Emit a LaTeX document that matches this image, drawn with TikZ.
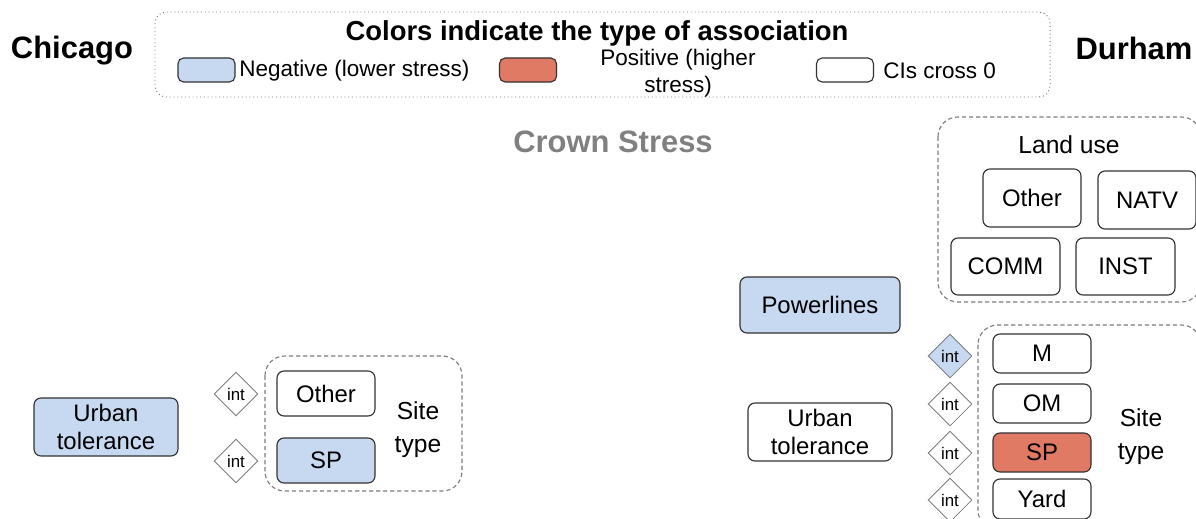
\documentclass[tikz,border=0pt]{standalone}
\usepackage{fontspec}
\setmainfont{Liberation Sans}
\usetikzlibrary{shapes.geometric}
\definecolor{negblue}{RGB}{198,217,240}
\definecolor{posred}{RGB}{224,122,100}
\definecolor{boxline}{RGB}{51,51,51}
\definecolor{grpline}{RGB}{125,125,125}
\definecolor{crowngray}{RGB}{128,128,128}
\tikzset{
  catbox/.style={draw=boxline, line width=0.8pt, rounded corners=5pt, inner sep=0pt,
    align=center, font=\fontsize{17}{20}\selectfont},
  intmark/.style={diamond, draw=grpline, line width=0.6pt, fill=white, inner sep=0pt,
    minimum width=1.1cm, minimum height=1.1cm, font=\fontsize{12}{14}\selectfont},
  grpbox/.style={draw=grpline, line width=0.8pt, dash pattern=on 3pt off 2pt, rounded corners=14pt},
  swatch/.style={draw=boxline, line width=0.8pt, rounded corners=4pt, inner sep=0pt,
    minimum width=1.425cm, minimum height=0.6cm},
  legtext/.style={font=\fontsize{16}{19}\selectfont, align=center, inner sep=0pt},
  sitelabel/.style={font=\fontsize{17.5}{23.5}\selectfont, align=center, inner sep=0pt},
}

\begin{document}
\begin{tikzpicture}[x=0.025cm, y=-0.025cm]
\useasboundingbox (0,0) rectangle (1196,519);
% legend
\draw[grpline, line width=0.7pt, dotted, rounded corners=8pt] (155,12) rectangle (1050,97);
\node[font=\bfseries\fontsize{19.5}{22}\selectfont] (legtitle) at (597,33) {Colors indicate the type of association};
\node[swatch, fill=negblue] (swneg) at (206.5,70) {};
\node[legtext, anchor=west] (txneg) at (239,71) {Negative (lower stress)};
\node[swatch, fill=posred] (swpos) at (528,70) {};
\node[legtext] (txpos) at (678,73) {Positive (higher\\stress)};
\node[swatch, fill=white] (swci) at (845,70) {};
\node[legtext, anchor=west] (txci) at (883,71) {CIs cross 0};
% headings
\node[font=\bfseries\fontsize{22}{24}\selectfont] (chicago) at (72,51) {Chicago};
\node[font=\bfseries\fontsize{22}{24}\selectfont] (durham) at (1134,48) {Durham};
\node[font=\bfseries\fontsize{22}{24}\selectfont, text=crowngray] (crown) at (613,142) {Crown Stress};

% Chicago
\node[catbox, fill=negblue, minimum width=3.6cm, minimum height=1.45cm] (chiurban) at (106,427) {Urban\\tolerance};
\draw[grpbox] (265,356) rectangle (462,491);
\node[catbox, minimum width=2.45cm, minimum height=1.125cm] (chiother) at (326,393.5) {Other};
\node[catbox, fill=negblue, minimum width=2.45cm, minimum height=1.125cm] (chisp) at (326,460.5) {SP};
\node[sitelabel] (chisite) at (418,430) {Site\\type};
\node[intmark] (chiint1) at (236,394) {int};
\node[intmark] (chiint2) at (236,461) {int};

% Durham
\node[catbox, fill=negblue, minimum width=4cm, minimum height=1.4cm] (powerlines) at (820,305) {Powerlines};
\node[catbox, minimum width=3.6cm, minimum height=1.45cm] (dururban) at (820,432) {Urban\\tolerance};
\draw[grpbox] (938,117) rectangle (1201,302);
\node[font=\fontsize{17.5}{20}\selectfont] (landuse) at (1069,145) {Land use};
\node[catbox, minimum width=2.45cm, minimum height=1.45cm] (luother) at (1032,198) {Other};
\node[catbox, minimum width=2.45cm, minimum height=1.45cm] (lunatv) at (1147,200) {NATV};
\node[catbox, minimum width=2.725cm, minimum height=1.425cm] (lucomm) at (1005.5,266.5) {COMM};
\node[catbox, minimum width=2.475cm, minimum height=1.425cm] (luinst) at (1125.5,266.5) {INST};
\draw[grpbox] (978,325) rectangle (1201,530);
\node[catbox, minimum width=2.45cm, minimum height=0.975cm] (durm) at (1042,353.5) {M};
\node[catbox, minimum width=2.45cm, minimum height=0.975cm] (durom) at (1042,403.5) {OM};
\node[catbox, fill=posred, minimum width=2.45cm, minimum height=0.975cm] (dursp) at (1042,452.5) {SP};
\node[catbox, minimum width=2.45cm, minimum height=1cm] (duryard) at (1042,499) {Yard};
\node[sitelabel] (dursite) at (1141,437) {Site\\type};
\node[intmark, fill=negblue] (durint1) at (950,356) {int};
\node[intmark] (durint2) at (950,404) {int};
\node[intmark] (durint3) at (950,453) {int};
\node[intmark] (durint4) at (950,500) {int};
\end{tikzpicture}
\end{document}
